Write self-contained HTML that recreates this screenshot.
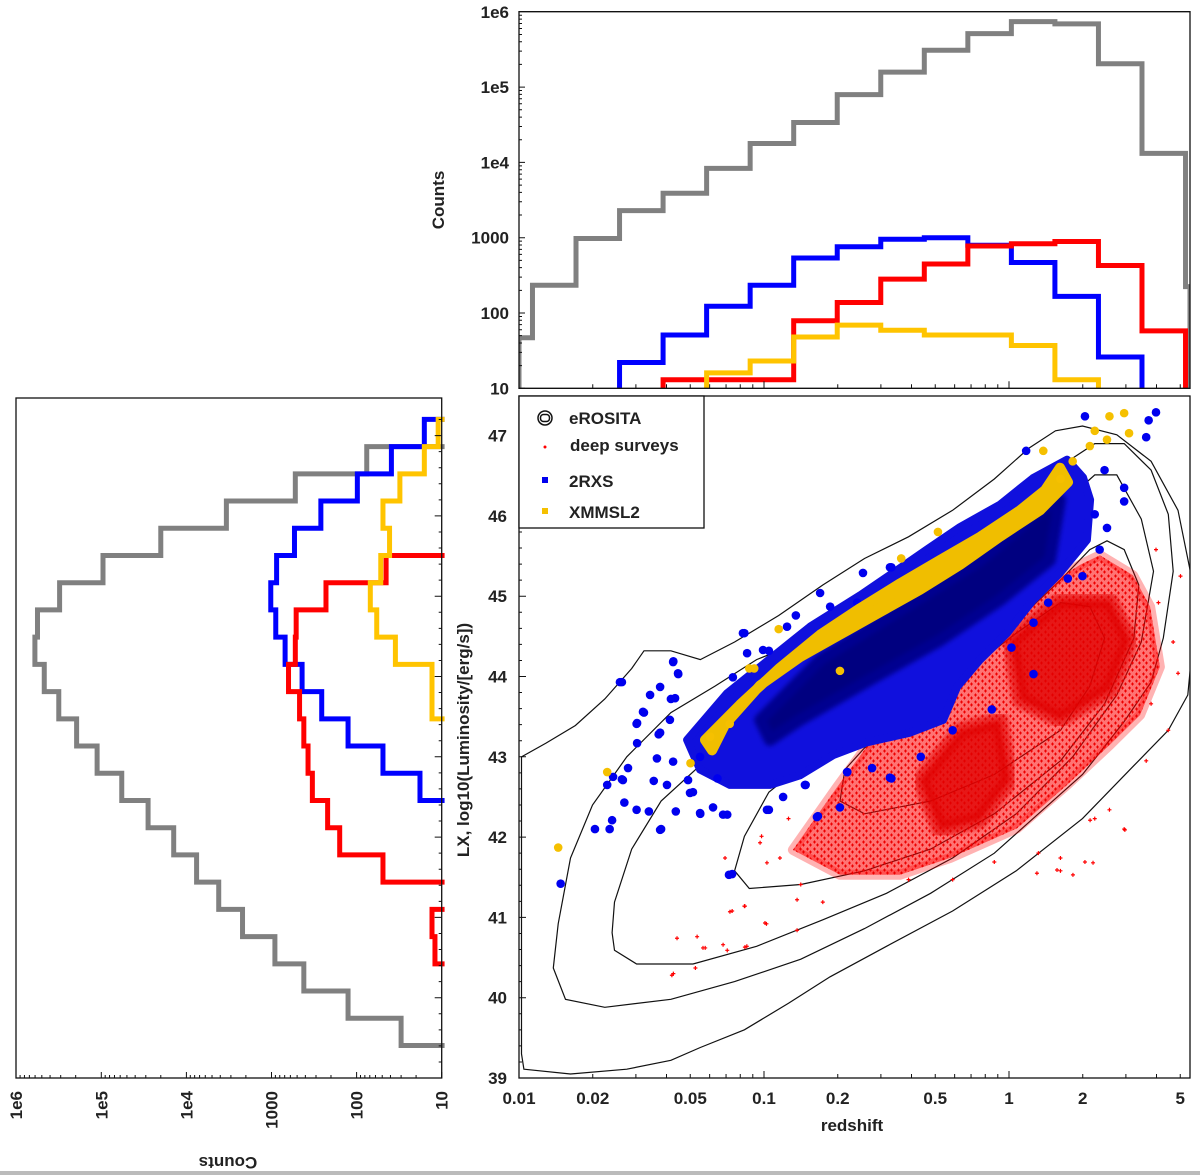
<!DOCTYPE html>
<html><head><meta charset="utf-8">
<style>
html,body{margin:0;padding:0;background:#fff;}
svg{display:block;font-family:"Liberation Sans",sans-serif;}
.tk{font-weight:bold;font-size:17px;fill:#222;}
</style></head>
<body>
<svg id="chart" width="1200" height="1175" viewBox="0 0 1200 1175" xmlns="http://www.w3.org/2000/svg">
<defs>
<pattern id="redstip" width="7" height="7" patternUnits="userSpaceOnUse">
<path d="M1 2h3M2.5 0.5v3M4 5h3M5.5 3.5v3" stroke="#e00" stroke-width="1"/>
</pattern>
<filter id="soft" x="-5%" y="-5%" width="110%" height="110%"><feGaussianBlur stdDeviation="2.5"/></filter>
</defs>
<g id="layer"></g>
</svg>
<script>
// ---------- data ----------
const topFirstEdge = -1.945;
const topBinWidth = 0.1777;
const topGrayCounts = [47,234,977,2290,3890,8320,17800,33900,79400,158000,309000,513000,741000,692000,204000,13200,224];
const topBlueCounts = [null,null,null,22,51,123,234,537,759,955,1000,794,468,166,26,null,null];
const topRedCounts = [null,null,null,null,13,13,13,79,138,282,447,776,832,891,427,58,null];
const topYellowCounts = [null,null,null,null,null,16,23,48,69,59,51,51,37,13,null,null,null];
const leftFirstEdge = 39.405;
const leftBinWidth = 0.339;
const leftGrayCounts = [30,126,417,912,2190,4170,7590,14100,28200,57500,112000,195000,316000,468000,603000,562000,309000,95500,20000,3390,525,76,null];
const leftBlueCounts = [null,null,null,null,null,null,null,null,null,18,49,126,257,437,692,891,1020,871,537,263,98,39,16];
const leftRedCounts = [null,null,null,12,13,null,49,158,219,331,372,417,468,631,525,513,229,45,null,null,null,null,null];
const leftYellowCounts = [null,null,null,null,null,null,null,null,null,null,null,null,13,13,35,58,69,52,41,49,31,16,11];
const contour1 = [[-1.98,39.11],[-1.79,39.05],[-1.56,39.11],[-1.38,39.22],[-1.26,39.38],[-1.08,39.60],[-0.90,39.93],[-0.73,40.26],[-0.50,40.64],[-0.23,41.08],[0.03,41.58],[0.30,42.23],[0.51,42.89],[0.65,43.33],[0.73,43.77],[0.75,44.43],[0.74,45.31],[0.69,46.07],[0.58,46.68],[0.44,47.01],[0.30,47.12],[0.19,47.06],[0.08,46.84],[-0.06,46.46],[-0.23,46.07],[-0.41,45.74],[-0.59,45.47],[-0.76,45.14],[-0.94,44.76],[-1.12,44.43],[-1.26,44.21],[-1.38,44.32],[-1.49,44.32],[-1.54,44.10],[-1.65,43.72],[-1.77,43.39],[-1.89,43.17],[-1.99,43.00],[-1.99,39.3]];
const contour2 = [[-1.86,40.37],[-1.84,40.92],[-1.79,41.74],[-1.70,42.40],[-1.56,43.00],[-1.38,43.55],[-1.20,43.88],[-1.03,44.21],[-0.85,44.43],[-0.67,44.76],[-0.50,45.09],[-0.32,45.42],[-0.14,45.80],[0.03,46.18],[0.21,46.62],[0.35,46.90],[0.47,46.90],[0.58,46.57],[0.65,46.02],[0.67,45.31],[0.63,44.48],[0.58,43.93],[0.47,43.44],[0.30,42.78],[0.12,42.29],[-0.06,41.80],[-0.32,41.30],[-0.59,40.86],[-0.85,40.48],[-1.12,40.20],[-1.38,39.98],[-1.65,39.88],[-1.81,39.98]];
const contour3 = [[-1.62,40.81],[-1.61,41.19],[-1.54,41.85],[-1.42,42.45],[-1.24,42.95],[-1.03,43.33],[-0.85,43.66],[-0.62,44.10],[-0.41,44.54],[-0.20,45.03],[0.03,45.69],[0.21,46.13],[0.35,46.51],[0.44,46.51],[0.54,45.96],[0.59,45.31],[0.54,44.43],[0.44,43.77],[0.26,43.00],[0.03,42.29],[-0.23,41.74],[-0.50,41.30],[-0.76,40.97],[-1.03,40.64],[-1.29,40.42],[-1.52,40.42],[-1.61,40.59]];
const contour4 = [[-1.12,41.58],[-1.08,42.01],[-0.98,42.56],[-0.80,43.00],[-0.59,43.39],[-0.32,43.88],[-0.06,44.43],[0.21,45.20],[0.33,45.58],[0.40,45.69],[0.47,45.58],[0.53,45.14],[0.51,44.48],[0.39,43.66],[0.21,42.95],[-0.06,42.29],[-0.32,41.85],[-0.59,41.58],[-0.85,41.41],[-1.06,41.36]];
const contour5 = [[-0.69,42.45],[-0.67,42.84],[-0.59,43.11],[-0.41,43.50],[-0.23,43.93],[0.03,44.54],[0.21,44.92],[0.33,44.87],[0.39,44.48],[0.33,43.88],[0.21,43.33],[-0.06,42.78],[-0.32,42.45],[-0.59,42.29]];
const blueDense = [[-1.314,43.21],[-1.151,43.79],[-0.947,44.29],[-0.812,44.62],[-0.608,45.01],[-0.473,45.29],[-0.335,45.58],[-0.200,45.86],[-0.037,46.14],[0.098,46.47],[0.237,46.70],[0.302,46.48],[0.331,46.20],[0.318,45.70],[0.208,45.29],[0.098,44.95],[-0.008,44.54],[-0.118,44.21],[-0.212,43.87],[-0.269,43.46],[-0.404,43.30],[-0.580,43.18],[-0.718,43.02],[-0.853,42.77],[-0.976,42.65],[-1.139,42.65],[-1.261,42.84]];
const blueCore = [[-1.016,43.46],[-0.771,44.21],[-0.445,44.83],[-0.118,45.45],[0.127,46.07],[0.208,46.20],[0.167,45.45],[-0.037,44.95],[-0.282,44.45],[-0.567,43.96],[-0.853,43.46],[-0.976,43.21]];
const yellowDense = [[-1.241,43.21],[-1.098,43.65],[-0.935,44.11],[-0.771,44.52],[-0.608,44.85],[-0.445,45.16],[-0.282,45.45],[-0.118,45.74],[0.045,46.07],[0.147,46.32],[0.208,46.60],[0.241,46.42],[0.127,46.07],[-0.037,45.74],[-0.200,45.39],[-0.363,45.08],[-0.527,44.80],[-0.690,44.52],[-0.853,44.24],[-1.016,43.89],[-1.159,43.40],[-1.212,43.08]];
const redDense = [[-0.882,41.84],[-0.702,42.62],[-0.539,43.30],[-0.376,43.71],[-0.200,44.21],[-0.037,44.70],[0.127,45.08],[0.290,45.39],[0.371,45.51],[0.506,45.26],[0.576,44.87],[0.616,44.12],[0.535,43.52],[0.412,43.15],[0.237,42.65],[0.033,42.11],[-0.241,41.74],[-0.445,41.53],[-0.690,41.53]];
const redCoreA = [[0.004,44.45],[0.208,44.95],[0.412,44.95],[0.494,44.45],[0.412,43.83],[0.208,43.46],[0.045,43.71]];
const redCoreB = [[-0.363,42.71],[-0.200,43.33],[-0.037,43.46],[0.004,42.71],[-0.118,42.21],[-0.282,42.09]];
const bluePoints = [[-1.83,41.42],[-1.69,42.10],[-1.63,42.10],[-1.62,42.21],[-1.57,42.43],[-1.52,42.34],[-1.64,42.65],[-1.58,42.72],[-1.47,42.32],[-1.42,42.10],[-1.36,42.32],[-1.26,42.29],[-1.15,42.28],[-0.98,42.34],[-0.78,42.26],[-0.69,42.37],[-1.13,41.54],[-1.58,43.93],[-1.37,44.19],[-1.35,44.03],[-1.52,43.41],[-1.49,43.55],[-1.43,43.28],[-1.38,43.72],[-1.08,44.54],[-0.98,44.32],[-0.87,44.76],[-0.73,44.87],[-0.62,44.92],[-0.48,45.36],[0.07,46.81],[0.31,47.24],[0.60,47.29],[0.57,47.19],[0.56,46.98],[0.47,46.35],[0.47,46.18],[0.37,45.58],[0.30,45.25],[0.24,45.22],[0.16,44.92],[0.10,44.67],[0.01,44.36],[0.10,44.03],[-0.07,43.59],[-0.23,43.33],[-0.36,43.00],[-0.48,42.73],[-0.83,42.65],[-0.66,42.81],[-1.45,42.70],[-1.29,42.56],[-1.19,42.73],[0.35,46.02],[0.40,45.85],[0.39,46.57],
[-1.588,43.93],[-1.465,43.77],[-1.424,43.87],[-1.363,43.73],[-1.494,43.56],[-1.518,43.42],[-1.384,43.46],[-1.518,43.17],[-1.424,43.30],[-1.437,42.98],[-1.371,42.94],[-1.396,42.65],[-1.310,42.71],[-1.261,43.00],[-1.616,42.75],[-1.576,42.71],[-1.555,42.86],[-1.086,44.54],[-1.004,44.33],[-1.127,43.99],[-1.069,44.29],[-0.906,44.62],[-0.771,45.04],[-0.596,45.29],[-0.486,45.36],[-1.371,44.18],[-1.351,44.04],
[-1.424,42.09],[-1.261,42.30],[-1.167,42.28],[-1.208,42.37],[-1.302,42.55],[-0.988,42.34],[-0.922,42.50],[-0.784,42.25],[-0.833,42.65],[-0.661,42.81],[-0.486,42.74],[-0.559,42.86],[-1.143,41.53]];
const yellowPoints = [[-1.84,41.87],[-1.64,42.81],[-1.30,42.92],[-1.22,43.25],[-1.14,43.41],[0.14,46.81],[0.26,46.68],[0.35,47.06],[0.41,47.24],[0.47,47.28],[0.49,47.03],[0.40,46.95],[0.33,46.87],[-0.29,45.80],[-0.44,45.47],[-0.94,44.59],[-1.06,44.10],[-1.04,44.10],[-0.69,44.07],[0.21,46.46]];
const redPoints = [[-1.37,40.30],[-1.28,40.37],[-1.24,40.62],[-1.15,40.59],[-1.07,40.64],[-0.99,40.92],[-0.85,41.41],[-0.76,41.19],[-1.13,41.08],[-1.08,41.14],[0.47,42.10],[0.35,42.23],[0.31,41.69],[0.21,41.58],[0.12,41.80],[0.65,43.33],[0.56,42.95],[0.69,44.04],[0.70,45.25],[0.60,45.58],[0.41,42.34],[-1.01,42.01],[-0.90,42.23],[-0.23,41.47],[-0.41,41.47],[-0.06,41.69],[0.61,44.92],[0.67,44.43],[0.58,43.66],[0.21,41.74],
[-1.376,40.28],[-1.355,40.74],[-1.273,40.76],[-1.249,40.62],[-1.167,40.66],[-1.078,40.63],[-1.139,41.07],[-1.078,41.14],[-0.996,40.93],[-0.865,40.84],[-0.865,41.22],[-1.016,41.93],[-0.988,41.68],[-0.935,41.74],[-1.159,41.74],[0.473,42.09],[0.331,42.21],[0.261,41.53],[0.196,41.59],[0.114,41.55],[0.343,41.68]];
const xTickValues = [0.01,0.02,0.05,0.1,0.2,0.5,1,2,5];
const xTickLabels = ["0.01","0.02","0.05","0.1","0.2","0.5","1","2","5"];
const yTickValues = [39,40,41,42,43,44,45,46,47];
const countTickValues = [1e6,1e5,1e4,1000,100,10];
const countTickLabels = ["1e6","1e5","1e4","1000","100","10"];

// ---------- scales ----------
const MX0=519, MX1=1190, MY0=396, MY1=1078;
const TY0=11.7, TY1=388.3;
const LX0=16, LX1=441.7;
const xS = lz => MX0 + (lz + 2) * 245;
const yS = L => MY1 - (L - 39) * 80.3;
const yT = c => TY1 - (Math.log10(c) - 1) * 75.3;
const xL = c => LX1 - (Math.log10(c) - 1) * 85.1;

const NS="http://www.w3.org/2000/svg";
const layer=document.getElementById('layer');
function mk(tag, attrs, parent){const e=document.createElementNS(NS,tag);for(const k in attrs)e.setAttribute(k,attrs[k]);(parent||layer).appendChild(e);return e;}
function polyStr(arr){return arr.map(p=>xS(p[0]).toFixed(1)+','+yS(p[1]).toFixed(1)).join(' ');}

const defs=document.querySelector('defs');
const cp=mk('clipPath',{id:'mainclip'},defs);
mk('rect',{x:MX0,y:MY0,width:MX1-MX0,height:MY1-MY0},cp);
const cpt=mk('clipPath',{id:'topclip'},defs);
mk('rect',{x:MX0,y:TY0-3,width:MX1-MX0,height:TY1-TY0+3},cpt);
const cpl=mk('clipPath',{id:'leftclip'},defs);
mk('rect',{x:LX0,y:398,width:LX1-LX0+3,height:MY1-398},cpl);

// ---------- main scatter ----------
const main=mk('g',{'clip-path':'url(#mainclip)'});


[contour1,contour2,contour3,contour4,contour5].forEach((c,i)=>{
  const p=mk('polygon',{points:polyStr(c),fill:'none',stroke:'#111','stroke-width':1.2},main);
  
  
});
const rd=mk('polygon',{points:polyStr(redDense),fill:'rgba(255,0,0,0.55)',stroke:'rgba(255,0,0,0.3)','stroke-width':10,'stroke-linejoin':'round'},main);


const rd2=mk('polygon',{points:polyStr(redDense),fill:'url(#redstip)',stroke:'none'},main);


[redCoreA,redCoreB].forEach((c,i)=>{
  const p=mk('polygon',{points:polyStr(c),fill:'rgba(225,0,0,0.8)',stroke:'rgba(225,0,0,0.6)','stroke-width':16,'stroke-linejoin':'round',filter:'url(#soft)'},main);
  
  
});
redPoints.forEach(p=>{
  const x=xS(p[0]),y=yS(p[1]);
  const e=mk('path',{d:`M${x-2} ${y}h4M${x} ${y-2}v4`,stroke:'#f00','stroke-width':1.2},main);
  
  
});
const bd=mk('polygon',{points:polyStr(blueDense),fill:'#1010dd',stroke:'#1010dd','stroke-width':8,'stroke-linejoin':'round'},main);


const bc=mk('polygon',{points:polyStr(blueCore),fill:'#000080',stroke:'#000090','stroke-width':12,'stroke-linejoin':'round',filter:'url(#soft)'},main);


bluePoints.forEach(p=>{
  const e=mk('circle',{cx:xS(p[0]),cy:yS(p[1]),r:4.3,fill:'#0000ee'},main);
  
  
});
const yd=mk('polygon',{points:polyStr(yellowDense),fill:'#f0be00',stroke:'#f0be00','stroke-width':10,'stroke-linejoin':'round'},main);


yellowPoints.forEach(p=>{
  const e=mk('circle',{cx:xS(p[0]),cy:yS(p[1]),r:4.3,fill:'#f5c000'},main);
  
  
});

const mf=mk('rect',{x:MX0,y:MY0,width:MX1-MX0,height:MY1-MY0,fill:'none',stroke:'#111','stroke-width':1.3});


let tickd='';
for(let d=-2; d<=0; d++){for(let m=1;m<=9;m++){const lz=d+Math.log10(m); if(lz>0.75)continue; const x=xS(lz); const len=(m===1)?7:4; tickd+=`M${x} ${MY1}v${-len}`;}}
for(let v=39; v<=47.4; v+=0.2){const y=yS(v); const isMaj=Math.abs(v-Math.round(v))<0.01; tickd+=`M${MX0} ${y}h${isMaj?7:3}`;}
const mt=mk('path',{d:tickd,stroke:'#111','stroke-width':1});


xTickValues.forEach((v,i)=>{
  const t=mk('text',{x:xS(Math.log10(v)),y:1104,'text-anchor':'middle',class:'tk'});
  t.textContent=xTickLabels[i];
  
  
});
yTickValues.forEach(v=>{
  const t=mk('text',{x:507,y:yS(v)+6,'text-anchor':'end',class:'tk'});
  t.textContent=String(v);
  
  
});
const xt=mk('text',{x:852,y:1131,'text-anchor':'middle',class:'tk'});
xt.textContent='redshift';


const yt=mk('text',{x:0,y:0,'text-anchor':'middle',class:'tk',transform:'translate(469,740) rotate(-90)'});
yt.textContent='LX, log10(Luminosity/[erg/s])';



// ---------- histograms ----------
function topPath(counts){
  let d='', open=false;
  const edge=i=> i===0 ? -2 : topFirstEdge + (i-1)*topBinWidth;
  const maxLz=(MX1-MX0)/245-2;
  for(let i=0;i<counts.length;i++){
    const a=xS(edge(i)), b=xS(Math.min(edge(i+1),maxLz));
    const c=counts[i];
    if(c==null){ if(open){d+=`V${TY1+3}`;open=false;} continue; }
    const y=yT(c);
    if(!open){ d+=`M${a} ${TY1+3}V${y}`; open=true; } else d+=`V${y}`;
    d+=`H${b}`;
  }
  if(open) d+=`V${TY1+3}`;
  return d;
}
function leftPath(counts){
  let d='', open=false;
  for(let i=0;i<counts.length;i++){
    const a=yS(leftFirstEdge+i*leftBinWidth), b=yS(leftFirstEdge+(i+1)*leftBinWidth);
    const c=counts[i];
    if(c==null){ if(open){d+=`H${LX1+3}`;open=false;} continue; }
    const x=xL(c);
    if(!open){ d+=`M${LX1+3} ${a}H${x}`; open=true; } else d+=`H${x}`;
    d+=`V${b}`;
  }
  if(open) d+=`H${LX1+3}`;
  return d;
}
const topG=mk('g',{'clip-path':'url(#topclip)'});


const leftG=mk('g',{'clip-path':'url(#leftclip)'});


const series=[['gray','#808080',topGrayCounts,leftGrayCounts],['blue','#0000ff',topBlueCounts,leftBlueCounts],['red','#ff0000',topRedCounts,leftRedCounts],['yellow','#ffc400',topYellowCounts,leftYellowCounts]];
const seriesNames={gray:'erosita',blue:'2rxs',red:'deep-surveys',yellow:'xmmsl2'};
series.forEach(s=>{
  const p1=mk('path',{d:topPath(s[2]),fill:'none',stroke:s[1],'stroke-width':5,'stroke-linejoin':'miter'},topG);
  
  
  const p2=mk('path',{d:leftPath(s[3]),fill:'none',stroke:s[1],'stroke-width':5,'stroke-linejoin':'miter'},leftG);
  
  
});
const tf=mk('path',{d:`M${MX0} ${TY0}H${MX1}V${TY1}H${MX0}Z`,fill:'none',stroke:'#111','stroke-width':1.3});


let td='';
for(let d=-2; d<=0; d++){for(let m=1;m<=9;m++){const lz=d+Math.log10(m); if(lz>0.75)continue; td+=`M${xS(lz)} ${TY1}v${m===1?-7:-4}`;}}
for(let e=1;e<6;e++){for(let m=1;m<=9;m++){const c=Math.pow(10,e)*m; td+=`M${MX0} ${yT(c)}h${m===1?6:3}`;}}
const ttk=mk('path',{d:td,stroke:'#111','stroke-width':1});


countTickValues.forEach((v,i)=>{
  const t=mk('text',{x:509,y:yT(v)+6,'text-anchor':'end',class:'tk'});
  t.textContent=countTickLabels[i];
  
  
});
const tyt=mk('text',{x:0,y:0,'text-anchor':'middle',class:'tk',transform:'translate(444,200) rotate(-90)'});
tyt.textContent='Counts';


const lf=mk('rect',{x:LX0,y:398,width:LX1-LX0,height:MY1-398,fill:'none',stroke:'#111','stroke-width':1.3});


let ld='';
for(let v=39; v<=47.4; v+=0.2){const isMaj=Math.abs(v-Math.round(v))<0.01; ld+=`M${LX1} ${yS(v)}h${isMaj?-7:-3}`;}
for(let e=1;e<6;e++){for(let m=1;m<=9;m++){const c=Math.pow(10,e)*m; ld+=`M${xL(c)} ${MY1}v${m===1?-6:-3}`;}}
const ltk=mk('path',{d:ld,stroke:'#111','stroke-width':1});


countTickValues.forEach((v,i)=>{
  const x=xL(v)+6;
  const t=mk('text',{x:0,y:0,'text-anchor':'end',class:'tk',transform:`translate(${x},1091) rotate(-90)`});
  t.textContent=countTickLabels[i];
  
  
});
const lxt=mk('text',{x:0,y:0,'text-anchor':'middle',class:'tk',transform:'translate(228,1157) rotate(180)'});
lxt.textContent='Counts';



// ---------- legend ----------
const lg=mk('g',{});


mk('rect',{x:MX0,y:MY0,width:185,height:132,fill:'#fff',stroke:'#111','stroke-width':1.3},lg);
const e1=mk('g',{},lg);


mk('circle',{cx:545,cy:418,r:7,fill:'none',stroke:'#111','stroke-width':1.5},e1);
mk('rect',{x:540.5,y:414.5,width:9,height:7,rx:3,fill:'none',stroke:'#111','stroke-width':1.5},e1);
let t1=mk('text',{x:569,y:424,class:'tk','font-size':'18'},e1); t1.textContent='eROSITA';
const e2=mk('g',{},lg);


mk('circle',{cx:545,cy:447,r:1.5,fill:'#f00'},e2);
let t2=mk('text',{x:570,y:451,class:'tk','font-size':'16'},e2); t2.textContent='deep surveys';
const e3=mk('g',{},lg);


mk('rect',{x:542,y:477,width:6,height:6,fill:'#0000ee'},e3);
let t3=mk('text',{x:569,y:487,class:'tk','font-size':'18'},e3); t3.textContent='2RXS';
const e4=mk('g',{},lg);


mk('rect',{x:542,y:508,width:6,height:6,fill:'#f5c000'},e4);
let t4=mk('text',{x:569,y:518,class:'tk','font-size':'18'},e4); t4.textContent='XMMSL2';

const bl=mk('rect',{x:0,y:1171,width:1200,height:4,fill:'#bbb'});


</script>
</body></html>
